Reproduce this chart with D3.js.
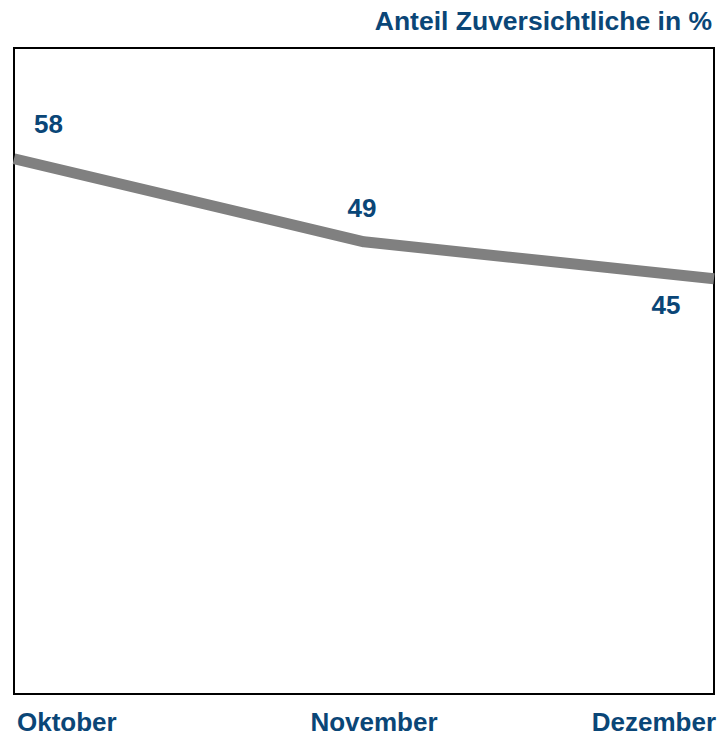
<!DOCTYPE html>
<html>
<head>
<meta charset="utf-8">
<script src="https://cdn.jsdelivr.net/npm/d3@7"></script>
<style>
  html, body { margin: 0; padding: 0; background: #fff; }
  svg { display: block; }
  text { font-family: "Liberation Sans", Arial, sans-serif; font-weight: bold; fill: #0a4677; }
</style>
</head>
<body>
<script>
const months = ["Oktober", "November", "Dezember"];
const values = [58, 49, 45];
const yDomain = [0, 70];
const title = "Anteil Zuversichtliche in %";

const W = 721, H = 736;
const plot = { left: 14, right: 714, top: 48, bottom: 694 };

const svg = d3.select("body").append("svg").attr("width", W).attr("height", H);

const x = d3.scalePoint().domain(months).range([plot.left, plot.right]).padding(0);
const y = d3.scaleLinear().domain(yDomain).range([plot.bottom, plot.top]);

// frame
svg.append("rect")
  .attr("x", plot.left).attr("y", plot.top)
  .attr("width", plot.right - plot.left).attr("height", plot.bottom - plot.top)
  .attr("fill", "none").attr("stroke", "#000").attr("stroke-width", 2);

// line
const data = months.map((m, i) => ({ m, v: values[i] }));
svg.append("path")
  .datum(data)
  .attr("d", d3.line().x(d => x(d.m)).y(d => y(d.v)))
  .attr("fill", "none").attr("stroke", "#808080").attr("stroke-width", 11)
  .attr("stroke-linejoin", "round");

// value labels
const labelCfg = [
  { dx: 20, dy: -26, anchor: "start" },
  { dx: -2, dy: -25, anchor: "middle" },
  { dx: -48, dy: 35, anchor: "middle" }
];
svg.selectAll(".val").data(data).enter().append("text")
  .attr("class", "val")
  .attr("x", (d, i) => x(d.m) + labelCfg[i].dx)
  .attr("y", (d, i) => y(d.v) + labelCfg[i].dy)
  .attr("text-anchor", (d, i) => labelCfg[i].anchor)
  .attr("font-size", 26)
  .text(d => d.v);

// category labels
const catAnchor = ["start", "middle", "end"];
const catDx = [3, 10, 2];
svg.selectAll(".cat").data(months).enter().append("text")
  .attr("class", "cat")
  .attr("x", (d, i) => x(d) + catDx[i])
  .attr("y", 731)
  .attr("text-anchor", (d, i) => catAnchor[i])
  .attr("font-size", 26)
  .text(d => d);

// title
svg.append("text")
  .attr("x", 712).attr("y", 30)
  .attr("text-anchor", "end")
  .attr("font-size", 26.5)
  .text(title);
</script>
</body>
</html>
